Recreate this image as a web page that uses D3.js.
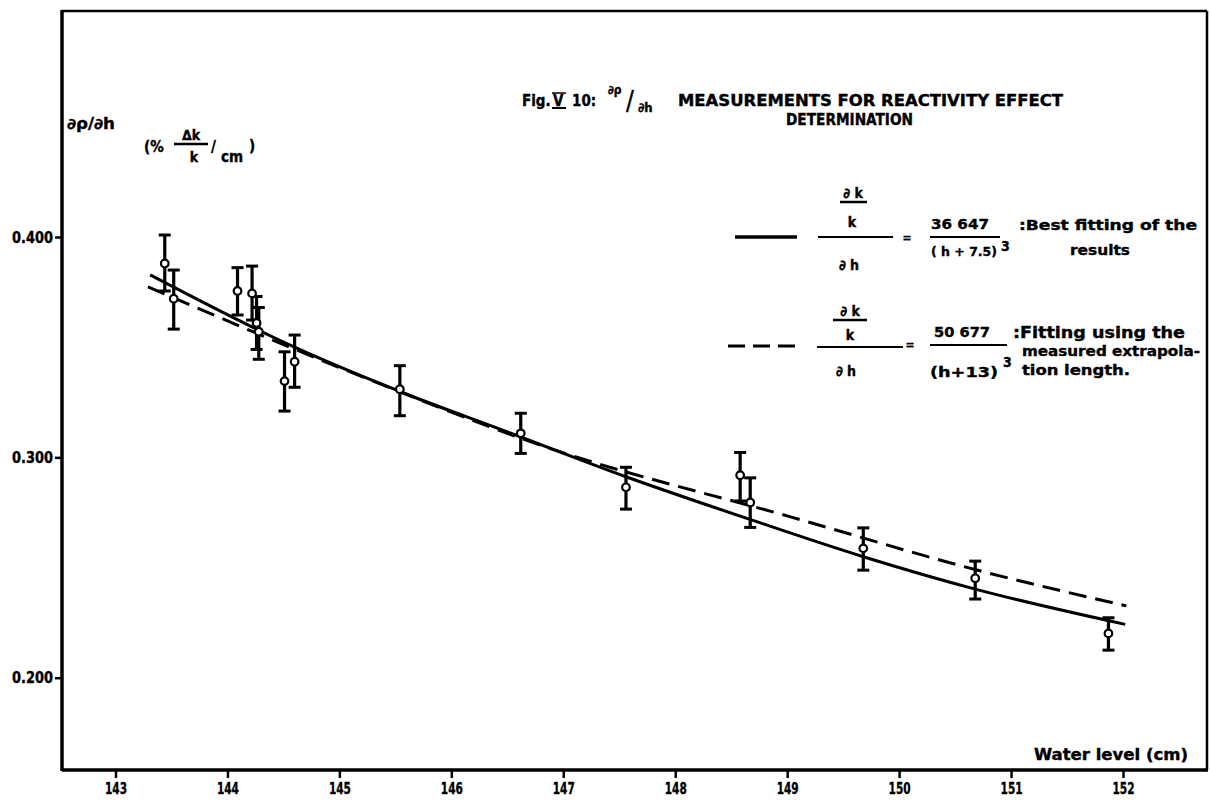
<!DOCTYPE html>
<html>
<head>
<meta charset="utf-8">
<script src="https://cdn.jsdelivr.net/npm/d3@7"></script>
<style>
  body { margin: 0; background: #fff; }
  text { font-family: 'DejaVu Sans Condensed', 'Liberation Sans Narrow', 'DejaVu Sans', sans-serif; font-weight: bold; fill: #000; stroke: #000; stroke-width: 0.35px; }
</style>
</head>
<body>
<svg id="chart"></svg>
<script>
// measured points (water level in cm, dρ/dh in %Δk/k/cm)
const waterLevel = [143.44, 143.52, 144.09, 144.22, 144.26, 144.28, 144.51, 144.60, 145.54, 146.62, 147.56, 148.58, 148.67, 149.68, 150.68, 151.87];
const measured   = [0.388, 0.372, 0.3755, 0.3744, 0.361, 0.357, 0.3346, 0.3434, 0.3309, 0.3109, 0.2864, 0.2919, 0.2795, 0.2587, 0.2451, 0.2201];
const errLow     = [0.3755, 0.3582, 0.3646, 0.3623, 0.349, 0.3445, 0.321, 0.3318, 0.3189, 0.3018, 0.2765, 0.2802, 0.2682, 0.2488, 0.2357, 0.2125];
const errHigh    = [0.4009, 0.385, 0.3861, 0.3868, 0.373, 0.368, 0.3479, 0.3555, 0.3416, 0.3200, 0.2955, 0.3022, 0.2907, 0.2680, 0.2529, 0.2272];

// best fitting curve (solid)
const bestFitLevel = [143.31, 144.59, 145.66, 146.44, 147.56, 148.64, 149.68, 150.68, 152.02];
const bestFitValue = [0.3828, 0.3502, 0.3275, 0.3127, 0.2912, 0.2723, 0.2549, 0.2402, 0.2242];

// fitting with measured extrapolation length (dashed)
const extrapFitLevel = [143.29, 145.13, 146.88, 149.03, 150.73, 152.03];
const extrapFitValue = [0.3774, 0.3381, 0.3041, 0.2730, 0.2484, 0.2326];

const xTicks = [143, 144, 145, 146, 147, 148, 149, 150, 151, 152];
const yTicks = [0.200, 0.300, 0.400];

class ReactivityChart {
  constructor(_config) {
    this.config = {
      parentElement: _config.parentElement,
      containerWidth: 1210,
      containerHeight: 801,
      frame: { left: 62, right: 1207, top: 11, bottom: 770 }
    };
    this.initVis();
  }

  initVis() {
    let vis = this;
    const f = vis.config.frame;

    vis.svg = d3.select(vis.config.parentElement)
        .attr('width', vis.config.containerWidth)
        .attr('height', vis.config.containerHeight);

    vis.xScale = d3.scaleLinear().domain([143, 152]).range([115.5, 1123]);
    vis.yScale = d3.scaleLinear().domain([0.2, 0.4]).range([677.7, 237]);

    // frame: thin top/right, heavy axes
    vis.svg.append('line').attr('x1', f.left).attr('x2', f.right).attr('y1', f.top).attr('y2', f.top)
        .attr('stroke', '#000').attr('stroke-width', 2.5);
    vis.svg.append('line').attr('x1', f.right).attr('x2', f.right).attr('y1', f.top).attr('y2', f.bottom)
        .attr('stroke', '#000').attr('stroke-width', 2.5);
    vis.svg.append('line').attr('x1', f.left).attr('x2', f.left).attr('y1', f.top - 1).attr('y2', f.bottom + 1)
        .attr('stroke', '#000').attr('stroke-width', 3.5);
    vis.svg.append('line').attr('x1', f.left).attr('x2', f.right + 1).attr('y1', f.bottom).attr('y2', f.bottom)
        .attr('stroke', '#000').attr('stroke-width', 3.5);

    // axes
    vis.svg.append('g')
        .attr('class', 'y-axis')
        .attr('transform', `translate(${f.left},0)`)
        .call(d3.axisLeft(vis.yScale).tickValues(yTicks).tickFormat(d3.format('.3f')).tickSize(7).tickPadding(2))
        .call(g => g.select('.domain').remove())
        .call(g => g.selectAll('line').attr('stroke-width', 2.5))
        .call(g => g.selectAll('text').style('font-size', '16px').attr('textLength', 41).attr('lengthAdjust', 'spacingAndGlyphs'));

    vis.svg.append('g')
        .attr('class', 'x-axis')
        .attr('transform', `translate(0,${f.bottom})`)
        .call(d3.axisBottom(vis.xScale).tickValues(xTicks).tickSize(8).tickPadding(5))
        .call(g => g.select('.domain').remove())
        .call(g => g.selectAll('line').attr('stroke-width', 2.5))
        .call(g => g.selectAll('text').style('font-size', '16px').attr('textLength', 22).attr('lengthAdjust', 'spacingAndGlyphs'));

    vis.svg.append('text')
       .attr('x', 1188).attr('y', 760)
       .attr('text-anchor', 'end')
       .style('font-size', '15px')
       .attr('textLength', 154).attr('lengthAdjust', 'spacingAndGlyphs')
       .text('Water level (cm)');

    // Y axis label
    vis.svg.append('text').attr('x', 67).attr('y', 129).style('font-size', '15px')
       .attr('textLength', 48).attr('lengthAdjust', 'spacingAndGlyphs').text('∂ρ/∂h');
    const yl = vis.svg.append('g');
    yl.append('text').attr('x', 144).attr('y', 152).style('font-size', '15px').text('(%');
    yl.append('text').attr('x', 191).attr('y', 140).attr('text-anchor', 'middle').style('font-size', '14px').text('Δk');
    yl.append('line').attr('x1', 174).attr('x2', 208).attr('y1', 144).attr('y2', 144).attr('stroke', '#000').attr('stroke-width', 2.5);
    yl.append('text').attr('x', 194).attr('y', 162).attr('text-anchor', 'middle').style('font-size', '14px').text('k');
    yl.append('text').attr('x', 211).attr('y', 152).style('font-size', '15px').text('/');
    yl.append('text').attr('x', 221).attr('y', 162).style('font-size', '15px').text('cm');
    yl.append('text').attr('x', 249).attr('y', 151).style('font-size', '15px').text(')');

    // Title
    const t = vis.svg.append('g');
    t.append('text').attr('x', 522).attr('y', 106).style('font-size', '15px').text('Fig.');
    t.append('text').attr('x', 553).attr('y', 106).style('font-size', '15px').text('V');
    t.append('line').attr('x1', 552).attr('x2', 566).attr('y1', 108).attr('y2', 108).attr('stroke', '#000').attr('stroke-width', 2);
    t.append('line').attr('x1', 552).attr('x2', 566).attr('y1', 93).attr('y2', 93).attr('stroke', '#000').attr('stroke-width', 1.5);
    t.append('text').attr('x', 572).attr('y', 106).style('font-size', '15px').text('10:');
    t.append('text').attr('x', 608).attr('y', 94).style('font-size', '12px').text('∂ρ');
    t.append('text').attr('x', 626).attr('y', 110).style('font-size', '26px').style('font-weight', 'normal').text('/');
    t.append('text').attr('x', 638).attr('y', 112).style('font-size', '13px').text('∂h');
    t.append('text').attr('x', 678).attr('y', 106).style('font-size', '15px')
       .attr('textLength', 385).attr('lengthAdjust', 'spacingAndGlyphs')
       .text('MEASUREMENTS FOR REACTIVITY EFFECT');
    t.append('text').attr('x', 786).attr('y', 125).style('font-size', '15px')
       .attr('textLength', 127).attr('lengthAdjust', 'spacingAndGlyphs')
       .text('DETERMINATION');

    vis.renderVis();
    vis.renderLegend();
  }

  renderVis() {
    let vis = this;

    const line = d3.line()
        .x(d => vis.xScale(d[0]))
        .y(d => vis.yScale(d[1]))
        .curve(d3.curveMonotoneX);

    vis.svg.append('path')
        .datum(d3.zip(bestFitLevel, bestFitValue))
        .attr('fill', 'none').attr('stroke', '#000').attr('stroke-width', 3)
        .attr('d', line);

    vis.svg.append('path')
        .datum(d3.zip(extrapFitLevel, extrapFitValue))
        .attr('fill', 'none').attr('stroke', '#000').attr('stroke-width', 3)
        .attr('stroke-dasharray', '18,9')
        .attr('d', line);

    const pts = waterLevel.map((h, i) => ({ h: h, v: measured[i], lo: errLow[i], hi: errHigh[i] }));
    const g = vis.svg.append('g').attr('class', 'points');
    const cap = 6;

    g.selectAll('.bar').data(pts).join('line').attr('class', 'bar')
        .attr('x1', d => vis.xScale(d.h)).attr('x2', d => vis.xScale(d.h))
        .attr('y1', d => vis.yScale(d.lo)).attr('y2', d => vis.yScale(d.hi))
        .attr('stroke', '#000').attr('stroke-width', 3.2);
    g.selectAll('.cap-hi').data(pts).join('line').attr('class', 'cap-hi')
        .attr('x1', d => vis.xScale(d.h) - cap).attr('x2', d => vis.xScale(d.h) + cap)
        .attr('y1', d => vis.yScale(d.hi)).attr('y2', d => vis.yScale(d.hi))
        .attr('stroke', '#000').attr('stroke-width', 3);
    g.selectAll('.cap-lo').data(pts).join('line').attr('class', 'cap-lo')
        .attr('x1', d => vis.xScale(d.h) - cap).attr('x2', d => vis.xScale(d.h) + cap)
        .attr('y1', d => vis.yScale(d.lo)).attr('y2', d => vis.yScale(d.lo))
        .attr('stroke', '#000').attr('stroke-width', 3);
    g.selectAll('circle').data(pts).join('circle')
        .attr('cx', d => vis.xScale(d.h)).attr('cy', d => vis.yScale(d.v))
        .attr('r', 3.8)
        .attr('fill', '#fff').attr('stroke', '#000').attr('stroke-width', 2.2);
  }

  renderLegend() {
    let vis = this;
    const lg = vis.svg.append('g').attr('class', 'legend');
    const txt = (x, y, s, size, anchor) => lg.append('text').attr('x', x).attr('y', y)
        .attr('text-anchor', anchor || 'start').style('font-size', (size || 14) + 'px').text(s);
    const rule = (x1, x2, y, w) => lg.append('line').attr('x1', x1).attr('x2', x2).attr('y1', y).attr('y2', y)
        .attr('stroke', '#000').attr('stroke-width', w || 2);

    // solid entry
    rule(735, 797, 237, 3.5);
    txt(853, 198, '∂ k', 14, 'middle'); rule(840, 867, 202, 2.5);
    txt(852, 227, 'k', 14, 'middle');
    rule(818, 893, 237, 2.2);
    txt(849, 270, '∂ h', 14, 'middle');
    txt(907, 242, '=', 12, 'middle');
    txt(960, 229, '36 647', 14, 'middle').attr('textLength', 58).attr('lengthAdjust', 'spacingAndGlyphs');
    rule(930, 1000, 237, 2.2);
    txt(964, 256, '( h + 7.5)', 13, 'middle').attr('textLength', 66).attr('lengthAdjust', 'spacingAndGlyphs');
    txt(1001, 251, '3', 14);
    txt(1019, 230, ':Best fitting of the', 14).attr('textLength', 178).attr('lengthAdjust', 'spacingAndGlyphs');
    txt(1070, 255, 'results', 14).attr('textLength', 60).attr('lengthAdjust', 'spacingAndGlyphs');

    // dashed entry
    lg.append('line').attr('x1', 728).attr('x2', 795).attr('y1', 346).attr('y2', 346)
        .attr('stroke', '#000').attr('stroke-width', 3).attr('stroke-dasharray', '17,8');
    txt(850, 316, '∂  k', 14, 'middle'); rule(833, 867, 320, 2.5);
    txt(850, 340, 'k', 14, 'middle');
    rule(817, 903, 347, 2.2);
    txt(846, 376, '∂  h', 14, 'middle');
    txt(910, 349, '=', 12, 'middle');
    txt(962, 337, '50 677', 14, 'middle').attr('textLength', 56).attr('lengthAdjust', 'spacingAndGlyphs');
    rule(930, 1007, 345, 2.2);
    txt(964, 377, '(h+13)', 14, 'middle').attr('textLength', 68).attr('lengthAdjust', 'spacingAndGlyphs');
    txt(1003, 367, '3', 14);
    txt(1013, 338, ':Fitting using the', 15).attr('textLength', 172).attr('lengthAdjust', 'spacingAndGlyphs');
    txt(1022, 356, 'measured extrapola-', 14).attr('textLength', 178).attr('lengthAdjust', 'spacingAndGlyphs');
    txt(1022, 375, 'tion length.', 14).attr('textLength', 108).attr('lengthAdjust', 'spacingAndGlyphs');
  }
}

new ReactivityChart({ parentElement: '#chart' });
</script>
</body>
</html>
